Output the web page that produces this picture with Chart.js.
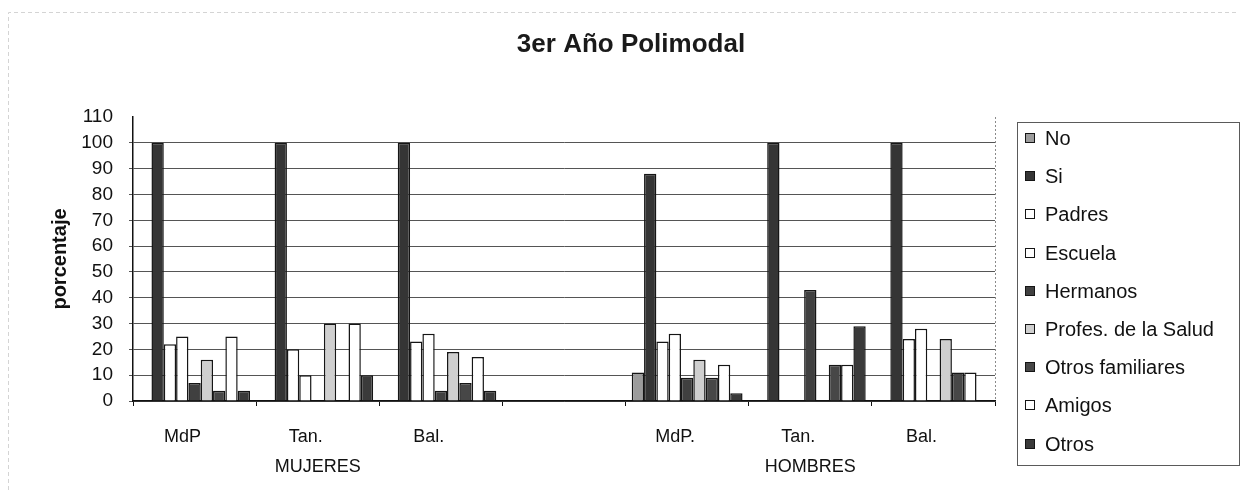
<!DOCTYPE html>
<html><head><meta charset="utf-8">
<script src="https://cdn.jsdelivr.net/npm/chart.js@4.4.0/dist/chart.umd.min.js"></script>
<style>html,body{margin:0;padding:0;background:#fff;}</style>
</head><body>
<canvas id="c" width="1242" height="502"></canvas>
<script>
// ---- data ----
const categories = ['MdP', 'Tan.', 'Bal.', '', 'MdP.', 'Tan.', 'Bal.'];
const groupLabels = ['', 'MUJERES', '', '', '', 'HOMBRES', ''];
const seriesNames = ['No', 'Si', 'Padres', 'Escuela', 'Hermanos', 'Profes. de la Salud', 'Otros familiares', 'Amigos', 'Otros'];
const No        = [0,   0,   0,   null, 11, 0,   0];
const Si        = [100, 100, 100, null, 88, 100, 100];
const Padres    = [22,  20,  23,  null, 23, 0,   24];
const Escuela   = [25,  10,  26,  null, 26, 0,   28];
const Hermanos  = [7,   0,   4,   null, 9,  43,  0];
const Profes    = [16,  30,  19,  null, 16, 0,   24];
const OtrosFam  = [4,   0,   7,   null, 9,  14,  11];
const Amigos    = [25,  30,  17,  null, 14, 14,  11];
const Otros     = [4,   10,  4,   null, 3,  29,  0];
const yMin = 0, yMax = 110, yStep = 10;
const yTitle = 'porcentaje';
const chartTitle = '3er Año Polimodal';

const seriesValues = [No, Si, Padres, Escuela, Hermanos, Profes, OtrosFam, Amigos, Otros];
const seriesColors = ['#9c9c9c', '#353535', '#ffffff', '#ffffff', '#404040', '#cfcfcf', '#474747', '#ffffff', '#3a3a3a'];

const FONT = '"Liberation Sans", Arial, sans-serif';

const datasets = seriesNames.map((name, i) => ({
  label: name,
  data: seriesValues[i],
  backgroundColor: seriesColors[i],
  borderColor: '#151515',
  borderWidth: 1.5,
  categoryPercentage: 0.9,
  barPercentage: 1.0,
  xAxisID: 'x',
  yAxisID: 'y'
}));

const decor = {
  id: 'decor',
  beforeDraw(chart) {
    const {ctx, width, height} = chart;
    ctx.save();
    ctx.fillStyle = '#fff';
    ctx.fillRect(0, 0, width, height);
    ctx.strokeStyle = '#d4d4d4';
    ctx.setLineDash([4, 3]);
    ctx.lineWidth = 1;
    ctx.beginPath();
    ctx.moveTo(8.5, 490); ctx.lineTo(8.5, 12.5); ctx.lineTo(1238, 12.5);
    ctx.stroke();
    ctx.restore();
  },
  afterDraw(chart) {
    const {ctx, chartArea, width} = chart;
    ctx.save();
    // title
    ctx.fillStyle = '#1a1a1a';
    ctx.font = 'bold 26px ' + FONT;
    ctx.textAlign = 'center';
    ctx.textBaseline = 'middle';
    ctx.fillText(chartTitle, width / 2 + 10, 45);
    // plot area right edge (dotted)
    ctx.strokeStyle = '#8a8a8a';
    ctx.lineWidth = 1;
    ctx.setLineDash([2, 2]);
    ctx.beginPath();
    ctx.moveTo(Math.round(chartArea.right) + 0.5, chartArea.top);
    ctx.lineTo(Math.round(chartArea.right) + 0.5, chartArea.bottom);
    ctx.stroke();
    ctx.setLineDash([]);
    // legend box
    const left = chartArea.right + 22, top = chartArea.top + 5, w = 222, h = 343;
    ctx.strokeStyle = '#5a5a5a';
    ctx.strokeRect(Math.round(left) + 0.5, Math.round(top) + 0.5, w, h);
    ctx.font = '20px ' + FONT;
    ctx.textBaseline = 'middle';
    ctx.textAlign = 'left';
    chart.data.datasets.forEach((ds, i) => {
      const cy = Math.round(top + 16 + i * 38.2);
      const bx = Math.round(left) + 8;
      ctx.fillStyle = ds.backgroundColor;
      ctx.fillRect(bx, cy - 5, 10, 10);
      ctx.strokeStyle = '#151515';
      ctx.strokeRect(bx + 0.5, cy - 4.5, 9, 9);
      ctx.fillStyle = '#111';
      ctx.fillText(ds.label, left + 28, cy + 1);
    });
    ctx.restore();
  }
};

new Chart(document.getElementById('c'), {
  type: 'bar',
  data: { labels: categories, datasets },
  plugins: [decor],
  options: {
    responsive: false,
    animation: false,
    devicePixelRatio: 1,
    layout: { padding: { left: 48, right: 247, top: 117, bottom: 29 } },
    plugins: {
      legend: { display: false },
      tooltip: { enabled: false },
      title: { display: false }
    },
    scales: {
      x: {
        type: 'category',
        position: 'bottom',
        offset: true,
        grid: { display: true, offset: true, drawOnChartArea: false, drawTicks: true, tickLength: 5, color: '#111', lineWidth: 1 },
        border: { display: true, color: '#111', width: 1.5 },
        ticks: { color: '#111', font: { family: FONT, size: 18 }, padding: 20, labelOffset: -12, maxRotation: 0, autoSkip: false },
        afterFit(scale) { scale.height = 44; }
      },
      x2: {
        type: 'category',
        position: 'bottom',
        labels: groupLabels,
        offset: true,
        grid: { display: false },
        border: { display: false },
        ticks: { color: '#111', font: { family: FONT, size: 18 }, padding: 3, maxRotation: 0, autoSkip: false },
        afterFit(scale) { scale.height = 28; }
      },
      y: {
        min: yMin, max: yMax,
        ticks: { stepSize: yStep, color: '#111', font: { family: FONT, size: 19 }, padding: 16 },
        grid: {
          color: (c) => (c.tick && c.tick.value === yMax) ? 'rgba(0,0,0,0)' : '#555',
          lineWidth: 1, drawTicks: true, tickLength: 4
        },
        border: { display: true, color: '#111', width: 1.5 },
        title: { display: true, text: yTitle, color: '#111', font: { family: FONT, size: 20, weight: 'bold' }, padding: 0 },
        afterFit(scale) { scale.width = 85; }
      }
    }
  }
});
</script>
</body></html>
